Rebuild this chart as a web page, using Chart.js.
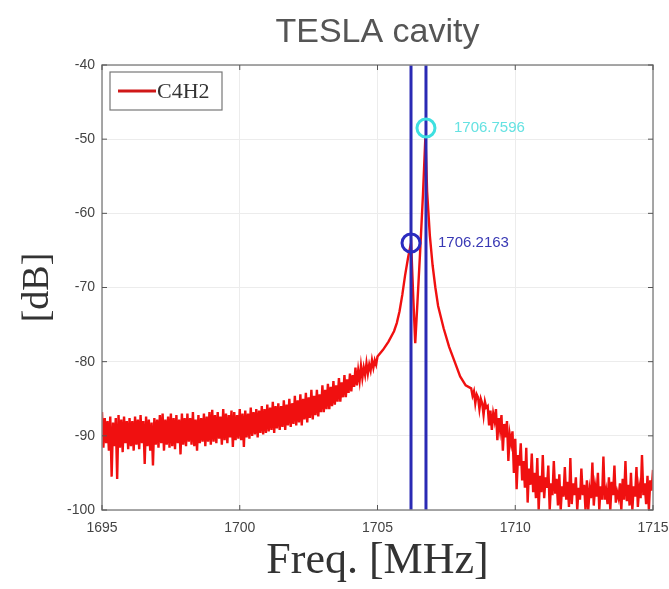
<!DOCTYPE html>
<html>
<head>
<meta charset="utf-8">
<script src="https://cdn.jsdelivr.net/npm/chart.js@4.4.1/dist/chart.umd.min.js"></script>
<style>
  html, body { margin: 0; padding: 0; background: #fff; }
  #wrap { width: 669px; height: 589px; position: relative; }
</style>
</head>
<body>
<div id="wrap"><canvas id="cavityChart"></canvas></div>
<script>
// sweep 1: low side of the resonance, 0.05 MHz steps from 1695.00
const sweepLowStart = 1695.0;
const sweepStep = 0.05;
const levelLow = [
  -86.8,-91.6,-87.6,-91.0,-88.0,-92.0,-87.4,-95.5,-88.2,-91.4,-87.6,-95.8,-87.2,-91.6,-87.8,-92.2,-87.4,-91.0,-88.0,-91.8,
  -87.6,-91.4,-88.0,-92.0,-87.4,-91.2,-87.8,-91.8,-87.2,-91.0,-88.0,-93.8,-87.4,-91.4,-87.8,-92.0,-88.2,-94.0,-87.6,-91.2,
  -87.8,-91.6,-87.2,-91.0,-87.0,-92.0,-87.8,-91.2,-87.4,-91.6,-87.0,-91.4,-87.6,-91.8,-87.2,-91.0,-87.8,-92.5,-87.0,-91.2,
  -87.6,-91.4,-87.0,-90.8,-87.6,-91.2,-86.8,-91.4,-87.8,-92.0,-87.2,-91.0,-87.6,-90.8,-87.0,-91.4,-87.4,-90.8,-86.8,-91.2,
  -86.5,-90.8,-87.2,-91.0,-86.8,-90.4,-87.4,-91.2,-86.4,-90.6,-87.0,-91.0,-87.2,-90.2,-86.6,-91.5,-86.8,-90.6,-87.2,-90.4,
  -86.4,-90.6,-87.0,-91.5,-86.6,-90.2,-87.0,-90.4,-86.2,-90.0,-86.8,-89.8,-86.4,-90.2,-86.6,-89.6,-86.0,-89.8,-86.4,-89.6,
  -85.8,-89.4,-86.2,-89.2,-85.4,-89.6,-86.0,-89.0,-85.6,-89.2,-86.0,-88.8,-85.2,-89.2,-85.8,-88.6,-85.0,-88.8,-85.6,-88.4,
  -84.6,-88.6,-85.2,-88.2,-84.4,-88.6,-85.0,-87.8,-84.2,-88.2,-84.8,-87.6,-83.8,-87.8,-84.6,-87.2,-83.8,-87.4,-84.4,-86.8,
  -83.2,-86.8,-83.8,-86.4,-83.0,-86.4,-83.4,-86.0,-82.6,-85.8,-83.2,-85.4,-82.2,-85.4,-82.8,-84.8,-81.8,-84.8,-82.4,-84.2,
  -81.6,-84.0,-81.8,-83.4,-80.8,-83.2,-81.2,-82.6,-80.6,-82.2,-80.8,-81.8,-80.2,-81.6,-80.4,-81.2,-79.8,-80.8,-79.8,-80.4
];

// around the two modes the trace is smooth, so it is kept point by point
const freqPeak = [
  1705.0,1705.2,1705.4,1705.6,1705.7,1705.8,1705.9,1706.0,1706.1,1706.16,1706.22,
  1706.3,1706.37,1706.45,1706.55,1706.65,1706.74,
  1706.8,1706.9,1707.0,1707.1,1707.2,1707.4,1707.6,1707.8,1708.0,1708.2
];
const levelPeak = [
  -79.3,-78.4,-77.3,-75.9,-74.8,-73.2,-71.0,-68.4,-66.2,-65.0,-64.0,
  -71.5,-77.5,-72.0,-65.0,-57.5,-49.5,
  -57.0,-63.0,-67.0,-70.0,-72.5,-75.5,-78.0,-80.0,-82.0,-83.2
];

// sweep 2: high side, 0.05 MHz steps from 1708.40
const sweepHighStart = 1708.4;
const levelHigh = [
  -83.6,-84.6,-84.0,-85.6,-84.4,-84.8,-86.4,-85.0,-85.6,-87.2,-85.4,-86.2,
  -86.0,-88.6,-86.6,-89.2,-87.0,-88.0,-86.4,-90.6,-87.6,-89.2,-87.2,-92.0,-88.4,-90.2,-88.0,-93.4,-89.8,-91.0,-89.4,-95.0,
  -90.4,-97.2,-92.6,-94.0,-91.0,-96.0,-93.4,-97.0,-91.6,-99.0,-94.4,-96.6,-92.4,-97.6,-95.0,-98.4,-93.0,-100.0,-95.4,-97.6,
  -92.6,-98.4,-95.6,-97.0,-94.0,-100.0,-96.4,-98.0,-93.4,-97.8,-95.8,-99.4,-95.2,-100.0,-96.8,-98.2,-94.2,-98.6,-96.2,-99.6,
  -93.0,-99.2,-96.4,-98.0,-95.6,-100.0,-97.0,-98.6,-94.4,-98.0,-96.6,-100.0,-96.0,-100.0,-97.2,-98.4,-93.6,-99.4,-96.8,-98.2,
  -95.0,-100.0,-96.8,-98.6,-92.8,-98.6,-97.4,-99.2,-95.6,-100.0,-96.2,-98.0,-94.0,-99.0,-97.6,-98.4,-96.4,-100.0,-95.8,-98.6,
  -93.4,-98.8,-96.6,-99.4,-95.0,-100.0,-96.8,-98.2,-94.2,-99.6,-97.0,-98.4,-92.6,-98.0,-96.4,-99.2,-95.4,-100.0,-96.0,-97.4,
  -94.6
];

// the two resonance peaks picked out with markers
const markerFreq = [1706.2163, 1706.7596];
const markerLevel = [-64.0, -48.5];
const markerColor = ['#2b2bc0', '#3ee0e0'];
const markerTextColor = ['#3838b4', '#66e2e2'];

const xTicks = [1695, 1700, 1705, 1710, 1715];
const yTicks = [-100, -90, -80, -70, -60, -50, -40];

const spectrum = [
  ...levelLow.map((v, i) => ({ x: sweepLowStart + i * sweepStep, y: v })),
  ...levelPeak.map((v, i) => ({ x: freqPeak[i], y: v })),
  ...levelHigh.map((v, i) => ({ x: sweepHighStart + i * sweepStep, y: v }))
];

const datasets = [{
  label: 'C4H2',
  data: spectrum,
  borderColor: '#f01010',
  borderWidth: 2.4,
  pointRadius: 0,
  tension: 0,
  order: 3
}];

// vertical cursor lines through each peak
markerFreq.forEach((f, i) => {
  datasets.push({
    label: 'cursor' + i,
    data: [{ x: f, y: yTicks[0] }, { x: f, y: yTicks[yTicks.length - 1] }],
    borderColor: '#2a2ab4',
    borderWidth: 3,
    pointRadius: 0,
    order: 2
  });
});

markerFreq.forEach((f, i) => {
  datasets.push({
    label: 'marker' + i,
    type: 'scatter',
    data: [{ x: f, y: markerLevel[i] }],
    borderColor: markerColor[i],
    backgroundColor: 'rgba(0,0,0,0)',
    borderWidth: 3,
    pointRadius: 9,
    pointHoverRadius: 9,
    order: 1
  });
});

const sansFont = '"Liberation Sans", Arial, sans-serif';
const serifFont = '"Liberation Serif", "Times New Roman", serif';

// MATLAB-ish frame: box, inner ticks, title, in-plot legend and peak labels
const framePlugin = {
  id: 'frame',
  afterDatasetsDraw(chart) {
    const { ctx, chartArea: a, scales } = chart;
    ctx.save();
    ctx.strokeStyle = '#8a8a8a';
    ctx.lineWidth = 1.5;
    ctx.strokeRect(a.left, a.top, a.right - a.left, a.bottom - a.top);
    ctx.lineWidth = 1;
    ctx.strokeStyle = '#555';
    xTicks.forEach(v => {
      const px = scales.x.getPixelForValue(v);
      ctx.beginPath();
      ctx.moveTo(px, a.bottom); ctx.lineTo(px, a.bottom - 5);
      ctx.moveTo(px, a.top); ctx.lineTo(px, a.top + 5);
      ctx.stroke();
    });
    yTicks.forEach(v => {
      const py = scales.y.getPixelForValue(v);
      ctx.beginPath();
      ctx.moveTo(a.left, py); ctx.lineTo(a.left + 5, py);
      ctx.moveTo(a.right, py); ctx.lineTo(a.right - 5, py);
      ctx.stroke();
    });

    // title, centred over the axes
    ctx.fillStyle = '#555';
    ctx.font = '34px ' + sansFont;
    ctx.textAlign = 'center';
    ctx.textBaseline = 'middle';
    ctx.fillText('TESLA cavity', (a.left + a.right) / 2, 33);

    // peak labels
    ctx.font = '15px ' + sansFont;
    ctx.textAlign = 'left';
    const labelGap = [27, 28];
    markerFreq.forEach((f, i) => {
      const px = scales.x.getPixelForValue(f);
      const py = scales.y.getPixelForValue(markerLevel[i]);
      ctx.fillStyle = markerTextColor[i];
      ctx.fillText(f.toFixed(4), px + labelGap[i], py);
    });

    // legend box
    const lx = a.left + 8, ly = a.top + 7;
    ctx.fillStyle = '#fff';
    ctx.fillRect(lx, ly, 112, 38);
    ctx.strokeStyle = '#777';
    ctx.lineWidth = 1.2;
    ctx.strokeRect(lx, ly, 112, 38);
    ctx.strokeStyle = '#d01818';
    ctx.lineWidth = 3;
    ctx.beginPath();
    ctx.moveTo(lx + 8, ly + 19); ctx.lineTo(lx + 46, ly + 19);
    ctx.stroke();
    ctx.fillStyle = '#333';
    ctx.font = '22px ' + serifFont;
    ctx.fillText(datasets[0].label, lx + 47, ly + 20);
    ctx.restore();
  }
};

new Chart(document.getElementById('cavityChart'), {
  type: 'line',
  data: { datasets: datasets },
  plugins: [framePlugin],
  options: {
    responsive: true,
    maintainAspectRatio: false,
    animation: false,
    layout: { padding: { left: 0, right: 16, top: 65, bottom: 0 } },
    plugins: {
      legend: { display: false },
      tooltip: { enabled: false },
      title: { display: false }
    },
    scales: {
      x: {
        type: 'linear',
        min: 1695,
        max: 1715,
        afterBuildTicks: s => { s.ticks = xTicks.map(v => ({ value: v })); },
        afterFit: s => { s.height = 79; s.paddingLeft = 0; s.paddingRight = 0; },
        grid: { color: '#ececec', drawTicks: false },
        border: { display: false },
        ticks: {
          color: '#444',
          padding: 10,
          maxRotation: 0,
          callback: v => String(v),
          font: { family: sansFont, size: 14 }
        },
        title: {
          display: true,
          text: 'Freq. [MHz]',
          color: '#333',
          font: { family: serifFont, size: 44 },
          padding: { top: 0, bottom: 1 }
        }
      },
      y: {
        min: -100,
        max: -40,
        afterBuildTicks: s => { s.ticks = yTicks.map(v => ({ value: v })); },
        afterFit: s => { s.width = 102; s.paddingTop = 0; s.paddingBottom = 0; },
        grid: { color: '#ececec', drawTicks: false },
        border: { display: false },
        ticks: {
          color: '#444',
          padding: 7,
          callback: v => String(v),
          font: { family: sansFont, size: 14 }
        },
        title: {
          display: true,
          text: '[dB]',
          color: '#333',
          font: { family: serifFont, size: 38 },
          padding: { top: 15, bottom: 0 }
        }
      }
    }
  }
});
</script>
</body>
</html>
